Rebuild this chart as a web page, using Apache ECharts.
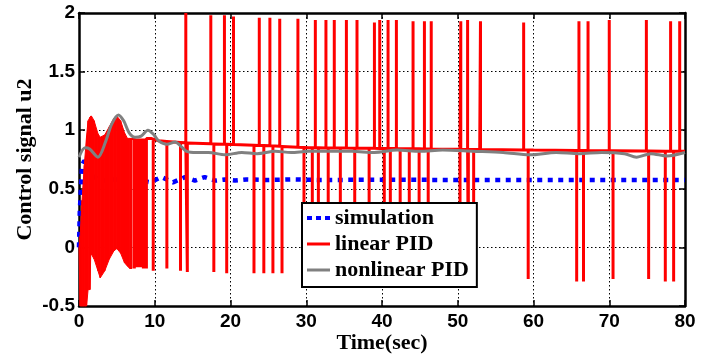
<!DOCTYPE html>
<html>
<head>
<meta charset="utf-8">
<script src="https://cdn.jsdelivr.net/npm/echarts@6/dist/echarts.min.js"></script>
<style>
html,body{margin:0;padding:0;background:#fff;}
#chart{width:715px;height:359px;}
</style>
</head>
<body>
<div id="chart"></div>
<script>
// ---- data ----
const seriesNames = ['simulation', 'linear PID', 'nonlinear PID'];

// simulation (blue dotted)
const simT = [0, 0.1, 0.25, 0.4, 0.7, 1.0, 1.5, 2.0, 2.6, 3.3, 4, 5, 6, 7.4, 9.4, 10.9, 12.4, 14.0, 15.3, 16.6, 18.0, 19.3, 20.6, 22.1, 25, 28, 32, 40, 50, 60, 70, 80];
const simV = [0, 0.3, 0.5, 0.7, 0.74, 0.72, 0.64, 0.6, 0.58, 0.57, 0.58, 0.58, 0.57, 0.58, 0.555, 0.6, 0.555, 0.6, 0.57, 0.6, 0.57, 0.58, 0.57, 0.58, 0.575, 0.58, 0.575, 0.578, 0.575, 0.575, 0.575, 0.575];

// linear PID: dense oscillation envelope at the start
const bandT     = [0,   0.15, 0.4,  0.7,  1.0,  1.2,  1.45, 1.55, 1.65, 2.0,  2.5,  2.8,  3.4,  4.0,  4.6,  5.0,  5.5,  6.0,  6.4,  6.7,  7.0];
const bandUpper = [0,   0.1,  0.4,  0.7,  0.95, 1.08, 1.11, 1.12, 1.12, 1.08, 0.97, 0.94, 0.96, 1.03, 1.1,  1.12, 1.08, 0.98, 0.93, 0.93, 0.93];
const bandLower = [0,  -0.5, -0.5, -0.5, -0.5, -0.36,-0.36,-0.06,-0.06,-0.1, -0.2, -0.26,-0.2, -0.1, -0.03,-0.01,-0.05,-0.13,-0.16,-0.18,-0.18];

// linear PID: slowly decaying level after the oscillation
const linT = [7.0, 9.5, 10.5, 12.5, 14.5, 19.3, 25.9, 30.3, 39.1, 52.9, 60, 70, 80];
const linV = [0.93, 0.93, 0.91, 0.9, 0.89, 0.88, 0.865, 0.85, 0.845, 0.835, 0.83, 0.825, 0.82];

// linear PID: upward spikes
const upT = [14.1, 17.4, 19.2, 20.4, 23.8, 25.2, 26.5, 28.9, 31.2, 32.6, 33.7, 35.3, 36.7, 39.0, 39.7, 40.8, 41.9, 44.1, 45.6, 46.5, 50.4, 51.3, 53.0, 58.7, 66.0, 67.2, 70.0, 74.9, 78.1, 79.3];
const upV = [2.0, 1.98, 1.98, 1.97, 1.96, 1.96, 1.95, 1.95, 1.94, 1.94, 1.94, 1.94, 1.94, 1.92, 1.94, 1.94, 1.94, 1.93, 1.93, 1.93, 1.93, 1.94, 1.93, 1.92, 1.93, 1.93, 1.94, 1.94, 1.93, 1.93];

// linear PID: downward spikes
const downT = [7.3, 7.5, 7.7, 7.9, 8.1, 8.3, 8.5, 8.7, 8.9, 9.8, 11.6, 13.4, 14.3, 17.8, 19.5, 23.1, 24.4, 25.6, 26.8, 29.7, 30.8, 31.6, 32.9, 34.5, 36.4, 38.3, 40.3, 41.1, 42.4, 43.6, 44.9, 46.1, 50.3, 51.4, 52.1, 59.3, 65.7, 66.6, 70.5, 75.2, 77.4, 78.5];
const downV = [-0.18, -0.17, -0.17, -0.17, -0.17, -0.17, -0.18, -0.18, -0.18, -0.2, -0.18, -0.2, -0.21, -0.21, -0.22, -0.22, -0.22, -0.22, -0.22, -0.22, -0.22, -0.22, -0.22, -0.22, -0.22, -0.22, -0.22, -0.22, -0.22, -0.22, -0.22, -0.22, -0.25, -0.25, -0.25, -0.27, -0.29, -0.29, -0.27, -0.27, -0.29, -0.29];

// nonlinear PID (grey)
const greyT = [0, 0.8, 1.4, 2.5, 3.5, 4.3, 5.2, 5.9, 6.6, 7.4, 8.2, 9.1, 9.9, 10.5, 11.6, 12.7, 13.5, 14.2, 15.5, 17.1, 19.3, 21.5, 23.5, 25.9, 28, 30.3, 33, 36, 39, 42, 45, 48, 52, 56, 59.5, 63, 66, 69, 72, 73.6, 75.5, 77.6, 80];
const greyV = [0.77, 0.85, 0.84, 0.77, 0.9, 1.05, 1.13, 1.08, 0.98, 0.94, 0.95, 1.0, 0.96, 0.91, 0.88, 0.9, 0.86, 0.82, 0.81, 0.81, 0.79, 0.81, 0.80, 0.82, 0.81, 0.82, 0.82, 0.82, 0.81, 0.83, 0.82, 0.83, 0.82, 0.81, 0.79, 0.81, 0.80, 0.81, 0.80, 0.77, 0.80, 0.78, 0.81];

// ---- build series data ----
function zip(a, b) { return a.map((v, i) => [v, b[i]]); }
function levelAt(t) {
  for (let i = 0; i < linT.length - 1; i++) {
    if (t >= linT[i] && t <= linT[i + 1]) {
      const f = (t - linT[i]) / (linT[i + 1] - linT[i]);
      return linV[i] + f * (linV[i + 1] - linV[i]);
    }
  }
  return linV[linV.length - 1];
}
const events = [];
linT.forEach((t, i) => events.push({ t: t, kind: 'base', v: linV[i] }));
upT.forEach((t, i) => events.push({ t: t, kind: 'spike', v: upV[i] }));
downT.forEach((t, i) => events.push({ t: t, kind: 'spike', v: downV[i] }));
events.sort((a, b) => a.t - b.t);
const linearData = [];
events.forEach(e => {
  if (e.kind === 'base') linearData.push([e.t, e.v]);
  else {
    const b = levelAt(e.t);
    linearData.push([e.t, b], [e.t, e.v], [e.t, b]);
  }
});
const bandData = [];
for (let i = 0; i < bandT.length - 1; i++) {
  bandData.push([bandT[i], bandT[i + 1], bandUpper[i], bandUpper[i + 1], bandLower[i], bandLower[i + 1]]);
}

const tickFont = { fontFamily: 'Liberation Sans', fontWeight: 'bold', fontSize: 19, color: '#000' };
const titleFont = { fontFamily: 'Liberation Serif', fontWeight: 'bold', fontSize: 22, color: '#000' };
const axisLine = { show: true, onZero: false, lineStyle: { color: '#000', width: 2.5 } };
const tick = { show: true, inside: true, length: 6, lineStyle: { color: '#000', width: 1.5 } };
const split = { show: true, lineStyle: { color: '#000', width: 1, type: [1.5, 2.5] } };

const chart = echarts.init(document.getElementById('chart'), null, { renderer: 'canvas' });
chart.setOption({
  animation: false,
  backgroundColor: '#fff',
  grid: { left: 79, right: 30, top: 13, bottom: 49, containLabel: false },
  xAxis: [
    { type: 'value', position: 'bottom', min: 0, max: 80, interval: 10,
      axisLine: axisLine, axisTick: tick, splitLine: split,
      axisLabel: Object.assign({ margin: 6 }, tickFont),
      name: 'Time(sec)', nameLocation: 'middle', nameGap: 26, nameMoveOverlap: false, nameTextStyle: titleFont },
    { type: 'value', position: 'top', min: 0, max: 80, interval: 10,
      axisLine: axisLine, axisTick: tick, splitLine: { show: false }, axisLabel: { show: false } }
  ],
  yAxis: [
    { type: 'value', position: 'left', min: -0.5, max: 2, interval: 0.5,
      axisLine: axisLine, axisTick: tick, splitLine: split,
      axisLabel: Object.assign({ margin: 4 }, tickFont),
      name: 'Control signal u2', nameLocation: 'middle', nameGap: 43, nameMoveOverlap: false, nameTextStyle: titleFont },
    { type: 'value', position: 'right', min: -0.5, max: 2, interval: 0.5,
      axisLine: axisLine, axisTick: tick, splitLine: { show: false }, axisLabel: { show: false } }
  ],
  legend: {
    data: [
      { name: seriesNames[0], icon: 'path://M0,0h5v4h-5zM9,0h5v4h-5zM18,0h5v4h-5z', itemStyle: { color: '#0000ff' } },
      { name: seriesNames[1], icon: 'path://M0,0h23v3h-23z', itemStyle: { color: '#ff0000' } },
      { name: seriesNames[2], icon: 'path://M0,0h23v3h-23z', itemStyle: { color: '#808080' } }
    ],
    orient: 'vertical', left: 302, top: 203, symbolKeepAspect: true,
    padding: [3, 8, 5, 5], itemGap: 2, itemWidth: 23, itemHeight: 12,
    backgroundColor: '#fff', borderColor: '#000', borderWidth: 2, z: 20,
    textStyle: Object.assign({ lineHeight: 24 }, titleFont)
  },
  series: [
    { name: 'simulation', type: 'line', data: zip(simT, simV), symbol: 'none', z: 2,
      lineStyle: { color: '#0000ff', width: 4.5, type: [5, 5.5], cap: 'butt' }, itemStyle: { color: '#0000ff' } },
    { name: 'linear PID band', type: 'custom', data: bandData, z: 3, silent: true,
      renderItem: function (params, api) {
        const p0 = api.coord([api.value(0), api.value(2)]);
        const p1 = api.coord([api.value(1), api.value(3)]);
        const p2 = api.coord([api.value(1), api.value(5)]);
        const p3 = api.coord([api.value(0), api.value(4)]);
        return { type: 'polygon', shape: { points: [p0, p1, p2, p3] },
          style: { fill: '#ff0000', stroke: '#ff0000', lineWidth: 1 } };
      } },
    { name: 'linear PID', type: 'line', data: linearData, symbol: 'none', z: 3,
      lineStyle: { color: '#ff0000', width: 3 }, itemStyle: { color: '#ff0000' } },
    { name: 'nonlinear PID', type: 'line', data: zip(greyT, greyV), symbol: 'none', z: 4, smooth: 0.3,
      lineStyle: { color: '#808080', width: 3 }, itemStyle: { color: '#808080' } }
  ]
});
</script>
</body>
</html>
